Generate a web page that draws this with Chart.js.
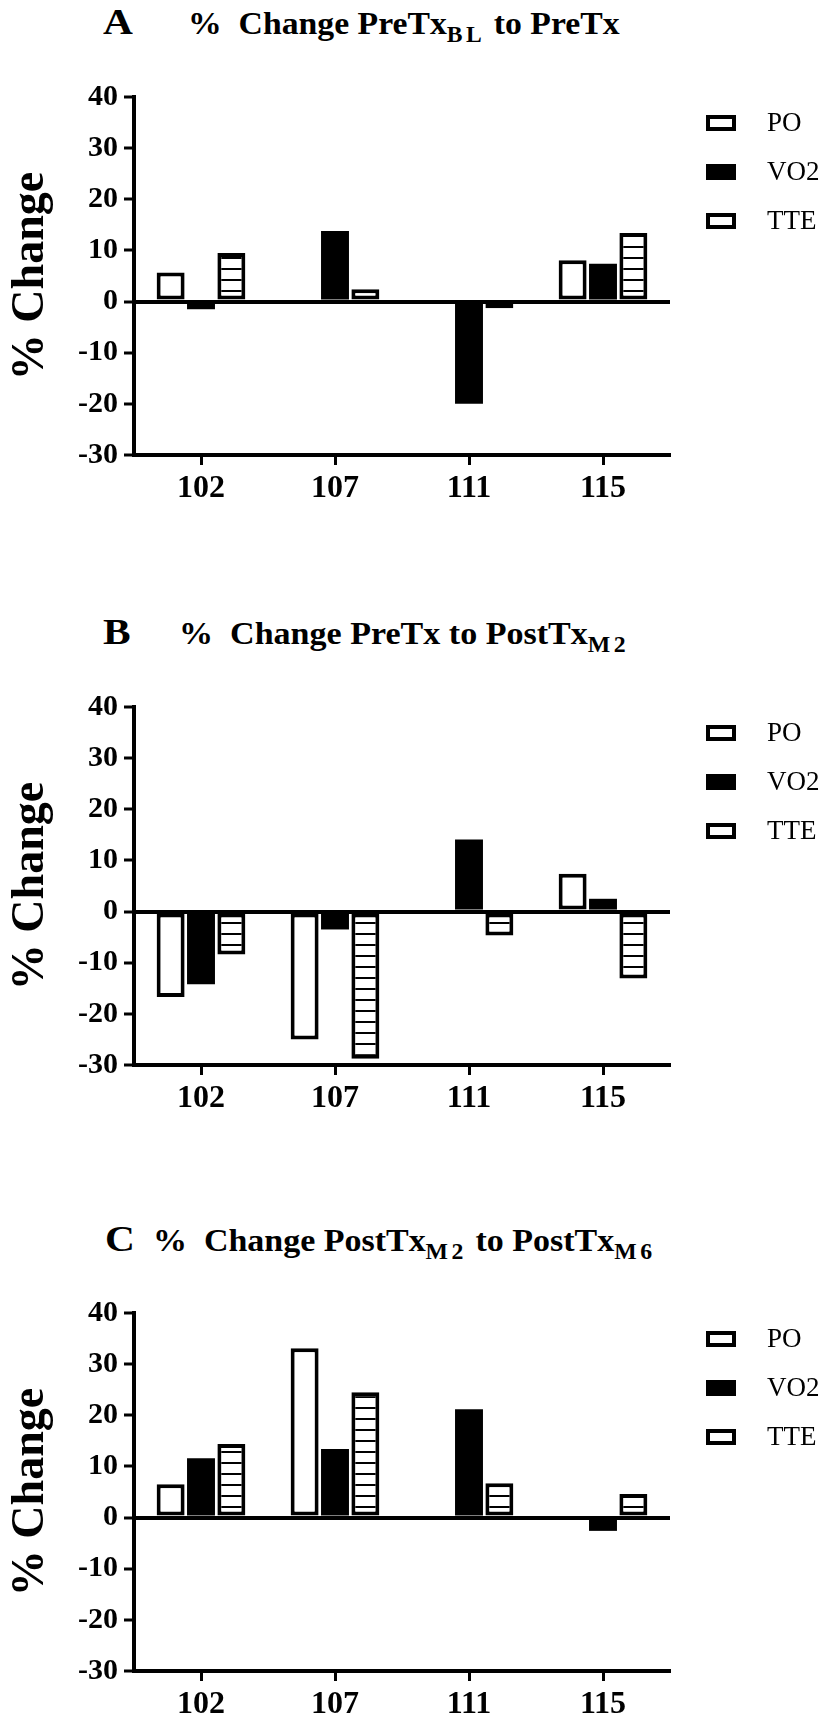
<!DOCTYPE html>
<html>
<head>
<meta charset="utf-8">
<script src="https://cdn.jsdelivr.net/npm/chart.js@4.4.0/dist/chart.umd.min.js"></script>
<style>
  body { margin: 0; width: 825px; height: 1726px; background: #fff; position: relative; overflow: hidden; font-family: 'Liberation Serif', 'Times New Roman', serif; color: #000; }
  .letter, .title { position: absolute; font-weight: bold; line-height: 1; white-space: pre; transform-origin: left top; }
  .letter { font-size: 36px; }
  .title { font-size: 32px; }
  .title sub { font-size: 0.7em; vertical-align: -8px; letter-spacing: 0.15em; line-height: 1; }
  canvas { position: absolute; left: 0; }
</style>
</head>
<body>
<div class="letter" style="left:103px;top:4px">A</div>
<div class="title" id="tA" style="left:188px;top:7px">%  Change PreTx<sub>BL</sub> to PreTx</div>
<canvas id="chartA" width="825" height="455" style="top:50px"></canvas>

<div class="letter" style="left:103px;top:614px">B</div>
<div class="title" id="tB" style="left:179px;top:617px">%  Change PreTx to PostTx<sub>M2</sub></div>
<canvas id="chartB" width="825" height="455" style="top:660px"></canvas>

<div class="letter" style="left:105px;top:1221px">C</div>
<div class="title" id="tC" style="left:153px;top:1224px">%  Change PostTx<sub>M2</sub> to PostTx<sub>M6</sub></div>
<canvas id="chartC" width="825" height="455" style="top:1266px"></canvas>

<script>
const subjects = ['102', '107', '111', '115']
const seriesNames = ['PO', 'VO2', 'TTE']
const yMin = -30
const yMax = 40
const yStep = 10

// A: PreTx(BL) -> PreTx
const poA = [5.7, null, null, 8.1]
const vo2A = [-1.5, 13.8, -20.0, 7.4]
const tteA = [9.5, 2.4, -1.3, 13.4]

// B: PreTx -> PostTx(M2)
const poB = [-16.7, -25.0, null, 7.4]
const vo2B = [-14.2, -3.5, 14.1, 2.5]
const tteB = [-8.4, -28.8, -4.7, -13.1]

// C: PostTx(M2) -> PostTx(M6)
const poC = [6.5, 33.1, null, null]
const vo2C = [11.6, 13.4, 21.2, -2.6]
const tteC = [14.4, 24.5, 6.7, 4.6]

const serif = "'Liberation Serif', 'Times New Roman', serif"

// stretch the titles to the width they have in the figure
const titleWidths = {tA: 432, tB: 450, tC: 503}
Object.keys(titleWidths).forEach((id) => {
  const el = document.getElementById(id)
  el.style.transform = 'scaleX(' + (titleWidths[id] / el.offsetWidth) + ')'
})
document.querySelectorAll('.letter').forEach((el) => { el.style.transform = 'scaleX(1.15)' })

function stripes () {
  const c = document.createElement('canvas')
  c.width = 8
  c.height = 11
  const x = c.getContext('2d')
  x.fillStyle = '#fff'
  x.fillRect(0, 0, 8, 11)
  x.fillStyle = '#000'
  x.fillRect(0, 9, 8, 2)
  return x.createPattern(c, 'repeat')
}

// legend drawn to the right of the plot, boxes with a thick black frame
const sideLegend = {
  id: 'sideLegend',
  afterDraw (chart) {
    const {ctx, chartArea} = chart
    const h = chartArea.bottom - chartArea.top
    ctx.save()
    chart.data.datasets.forEach((ds, i) => {
      const x = Math.round(chartArea.right + 36)
      const y = Math.round(chartArea.top + h * (0.073 + 0.136 * i))
      ctx.fillStyle = '#000'
      ctx.fillRect(x, y - 8, 30, 16)
      if (ds.backgroundColor !== '#000') {
        ctx.fillStyle = '#fff'
        ctx.fillRect(x + 4, y - 4, 22, 8)
      }
      ctx.fillStyle = '#000'
      ctx.font = '27px ' + serif
      ctx.textBaseline = 'middle'
      ctx.textAlign = 'left'
      ctx.fillText(ds.label, x + 61, y + 1)
    })
    ctx.restore()
  }
}

function makeChart (id, po, vo2, tte) {
  const fills = ['#fff', '#000', stripes()]
  const values = [po, vo2, tte]
  const datasets = seriesNames.map((name, i) => ({
    label: name,
    data: values[i],
    backgroundColor: fills[i],
    borderColor: '#000',
    // solid bars need no frame (avoids seams between frame and fill)
    borderWidth: fills[i] === '#000' ? 0 : 4,
    borderSkipped: false,
    barPercentage: 0.92,
    categoryPercentage: 0.68
  }))

  return new Chart(document.getElementById(id), {
    type: 'bar',
    data: {labels: subjects, datasets: datasets},
    options: {
      responsive: false,
      animation: false,
      layout: {padding: {top: 47, right: 155, bottom: 0, left: 0}},
      plugins: {legend: {display: false}, tooltip: {enabled: false}},
      scales: {
        x: {
          grid: {offset: false, drawOnChartArea: false, color: 'rgba(0,0,0,0)', tickLength: 10, tickWidth: 3, tickColor: '#000'},
          border: {display: true, color: '#000', width: 4},
          ticks: {color: '#000', padding: 5, font: {family: serif, size: 32, weight: 'bold'}},
          afterFit: (scale) => { scale.height = 50 }
        },
        y: {
          min: yMin,
          max: yMax,
          ticks: {stepSize: yStep, color: '#000', padding: 6, font: {family: serif, size: 30, weight: 'bold'}},
          grid: {
            drawOnChartArea: true,
            color: (c) => (c.tick && c.tick.value === 0) ? '#000' : 'rgba(0,0,0,0)',
            lineWidth: 4,
            tickLength: 10,
            tickWidth: 3,
            tickColor: '#000'
          },
          border: {display: true, color: '#000', width: 4},
          title: {display: true, text: '% Change', color: '#000', padding: {top: 4, bottom: 0}, font: {family: serif, size: 46, weight: 'bold'}},
          afterFit: (scale) => { scale.width = 134 }
        }
      }
    },
    plugins: [sideLegend]
  })
}

makeChart('chartA', poA, vo2A, tteA)
makeChart('chartB', poB, vo2B, tteB)
makeChart('chartC', poC, vo2C, tteC)
</script>
</body>
</html>
